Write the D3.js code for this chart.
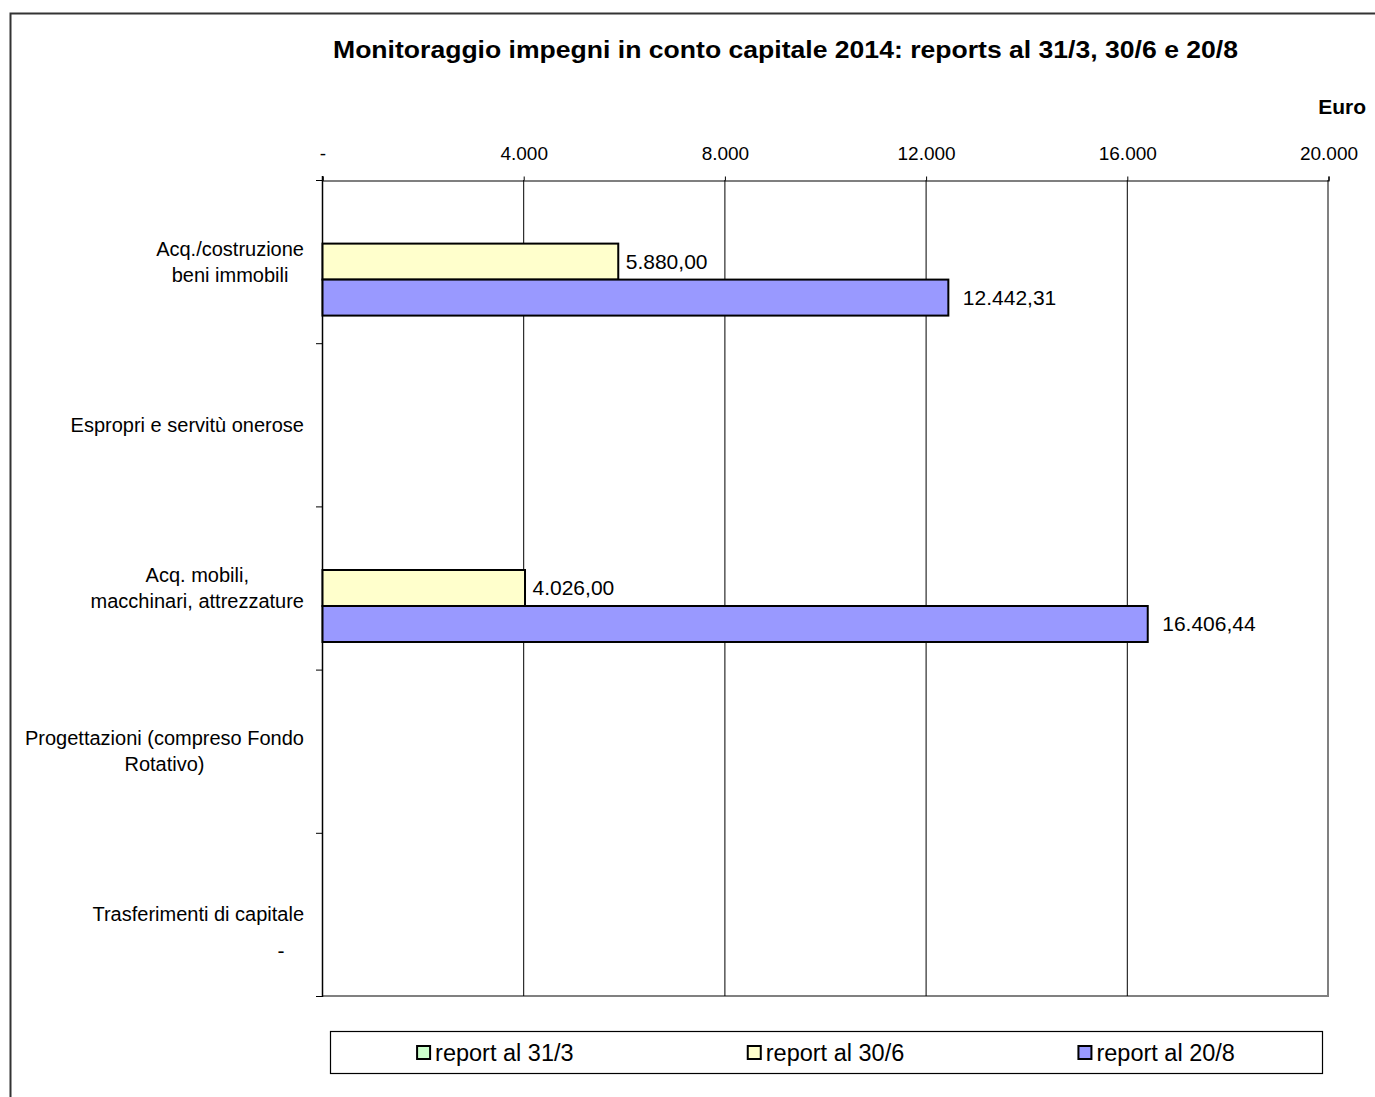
<!DOCTYPE html>
<html>
<head>
<meta charset="utf-8">
<script src="https://cdn.jsdelivr.net/npm/d3@7"></script>
<style>
  body { margin: 0; background: #fff; }
  svg { font-family: "Liberation Sans", Arial, sans-serif; }
</style>
</head>
<body>
<div id="chart"></div>
<script>
// categories (each line of a label is an entry)
const categories = [
  ["Acq./costruzione", "beni immobili"],
  ["Espropri e servitù onerose"],
  ["Acq. mobili,", "macchinari, attrezzature"],
  ["Progettazioni (compreso Fondo", "Rotativo)"],
  ["Trasferimenti di capitale"]
];
const seriesNames = ["report al 31/3", "report al 30/6", "report al 20/8"];
const seriesColors = ["#ccffcc", "#ffffcc", "#9999ff"];
// values in euro, null = no bar / no label
const report313 = [null, null, null, null, null];
const report306 = [5880, null, 4026, null, null];
const report208 = [12442.31, null, 16406.44, null, 0];
const xTicks = [0, 4000, 8000, 12000, 16000, 20000];

const width = 1375, height = 1097;
const labelGap = [8, 8, 15];

const svg = d3.select("#chart").append("svg")
  .attr("width", width).attr("height", height);

svg.append("rect").attr("width", width).attr("height", height).attr("fill", "#fff");

// outer chart frame (only top and left visible)
svg.append("path")
  .attr("d", "M10.5," + height + "V13.5H" + width)
  .attr("fill", "none").attr("stroke", "#333").attr("stroke-width", 2);

const plot = { left: 322, right: 1328, top: 180, bottom: 996 };

const x = d3.scaleLinear().domain([0, 20000]).range([plot.left, plot.right]);
const y = d3.scaleBand().domain(d3.range(categories.length)).range([plot.top, plot.bottom]);
const ySub = d3.scaleBand().domain(d3.range(3)).range([0, y.bandwidth()]).paddingOuter(0.767);

const fmtTick = v => v === 0 ? "-" : d3.format(",")(v).replace(/,/g, ".");
const fmtLabel = v => {
  if (v === 0) return "-";
  let s = d3.format(",.2f")(v);
  return s.replace(/,/g, "#").replace(".", ",").replace(/#/g, ".");
};

// title
svg.append("text")
  .attr("x", 785.5).attr("y", 58)
  .attr("text-anchor", "middle")
  .attr("font-size", 24).attr("font-weight", "bold")
  .attr("textLength", 905).attr("lengthAdjust", "spacingAndGlyphs")
  .text("Monitoraggio impegni in conto capitale 2014: reports al 31/3, 30/6 e 20/8");

svg.append("text")
  .attr("x", 1366).attr("y", 114)
  .attr("text-anchor", "end")
  .attr("font-size", 21).attr("font-weight", "bold")
  .text("Euro");

// plot border right / bottom (grey)
svg.append("path")
  .attr("d", `M${plot.right},${plot.top}V${plot.bottom}H${plot.left}`)
  .attr("fill", "none").attr("stroke", "#808080").attr("stroke-width", 2);

// gridlines
svg.append("g").selectAll("line")
  .data(xTicks.filter(d => d > 0 && d < 20000))
  .join("line")
  .attr("x1", d => x(d) + 0.5).attr("x2", d => x(d) + 0.5)
  .attr("y1", plot.top).attr("y2", plot.bottom)
  .attr("stroke", "#000").attr("stroke-width", 1);

// top axis
const xAxis = d3.axisTop(x).tickValues(xTicks).tickSize(4).tickPadding(17).tickFormat(fmtTick);
const gx = svg.append("g").attr("transform", `translate(0.5,${plot.top + 0.5})`).call(xAxis);
gx.select(".domain").attr("stroke", "#000").attr("stroke-width", 1.2);
gx.selectAll(".tick line").attr("stroke", "#000");
gx.selectAll(".tick text").attr("font-size", 19).attr("fill", "#000")
  .attr("font-family", "'Liberation Sans', Arial, sans-serif");

// left axis line and category ticks
svg.append("line")
  .attr("x1", plot.left + 0.5).attr("x2", plot.left + 0.5)
  .attr("y1", plot.top - 4).attr("y2", plot.bottom + 1)
  .attr("stroke", "#000").attr("stroke-width", 1.5);
svg.append("g").selectAll("line")
  .data(d3.range(categories.length + 1))
  .join("line")
  .attr("x1", plot.left - 6).attr("x2", plot.left)
  .attr("y1", d => (d < categories.length ? y(d) : plot.bottom) + 0.5)
  .attr("y2", d => (d < categories.length ? y(d) : plot.bottom) + 0.5)
  .attr("stroke", "#000").attr("stroke-width", 1);

// category labels: block right-aligned, lines centred in block
const labelRight = plot.left - 18;
const lineH = 26;
categories.forEach((lines, i) => {
  const g = svg.append("g");
  const cy = y(i) + y.bandwidth() / 2;
  const texts = lines.map((ln, j) => g.append("text")
    .attr("font-size", 20).attr("fill", "#000")
    .attr("text-anchor", "middle")
    .attr("y", cy + (j - (lines.length - 1) / 2) * lineH)
    .attr("dy", "0.35em")
    .text(ln));
  const w = d3.max(texts, t => t.node().getComputedTextLength());
  texts.forEach(t => t.attr("x", labelRight - w / 2));
});

// bars
const allSeries = [report313, report306, report208];
allSeries.forEach((vals, s) => {
  const g = svg.append("g");
  vals.forEach((v, i) => {
    if (v === null) return;
    const by = y(i) + ySub(s);
    const bh = ySub.bandwidth();
    if (v > 0) {
      g.append("rect")
        .attr("x", x(0) + 0.5).attr("y", by)
        .attr("width", x(v) - x(0)).attr("height", bh)
        .attr("fill", seriesColors[s])
        .attr("stroke", "#000").attr("stroke-width", 2);
      g.append("text")
        .attr("x", x(v) + labelGap[s]).attr("y", by + bh / 2)
        .attr("dy", "0.35em").attr("font-size", 21).attr("fill", "#000")
        .text(fmtLabel(v));
    } else {
      g.append("text")
        .attr("x", x(0) - 41).attr("y", by + bh / 2)
        .attr("dy", "0.35em").attr("text-anchor", "middle")
        .attr("font-size", 21).attr("fill", "#000")
        .text(fmtLabel(v));
    }
  });
});

// legend
const leg = { left: 330, right: 1322, top: 1031, bottom: 1073 };
svg.append("rect")
  .attr("x", leg.left + 0.5).attr("y", leg.top + 0.5)
  .attr("width", leg.right - leg.left).attr("height", leg.bottom - leg.top)
  .attr("fill", "#fff").attr("stroke", "#000").attr("stroke-width", 1.2);
const slot = (leg.right - leg.left) / seriesNames.length;
const legY = (leg.top + leg.bottom) / 2 + 1;
seriesNames.forEach((name, s) => {
  const g = svg.append("g");
  const sw = g.append("rect")
    .attr("width", 13).attr("height", 13)
    .attr("y", legY - 7)
    .attr("fill", seriesColors[s]).attr("stroke", "#000").attr("stroke-width", 2);
  const t = g.append("text")
    .attr("y", legY).attr("dy", "0.35em")
    .attr("font-size", 23.5).attr("fill", "#000")
    .text(name);
  const tw = t.node().getComputedTextLength();
  const total = 13 + 5 + tw;
  const x0 = leg.left + slot * s + (slot - total) / 2;
  sw.attr("x", x0);
  t.attr("x", x0 + 18);
});
</script>
</body>
</html>
